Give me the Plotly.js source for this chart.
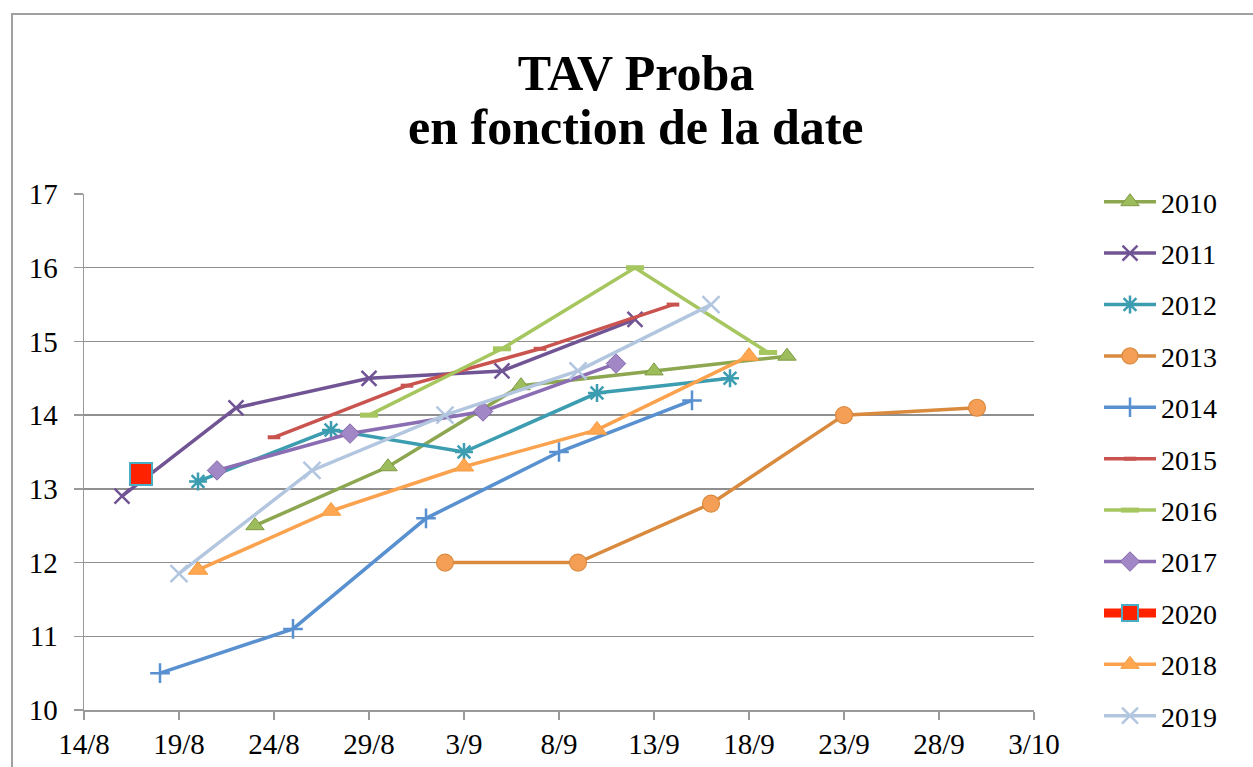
<!DOCTYPE html>
<html>
<head>
<meta charset="utf-8">
<script src="https://cdn.plot.ly/plotly-3.0.1.min.js"></script>
<style>
  html, body { margin: 0; padding: 0; background: #fff; }
  #chart { position: absolute; left: 0; top: 0; width: 1253px; height: 767px; }
  #frame { position: absolute; left: 11px; top: 13px; width: 1260px; height: 780px;
           border: 2px solid #a0a0a0; pointer-events: none; }
</style>
</head>
<body>
<div id="chart"></div>
<div id="frame"></div>
<script>
// ---- data (dates as day/month, shown on a common calendar year) ----
const seriesNames = ['2010','2011','2012','2013','2014','2015','2016','2017','2020','2018','2019'];

const dates2010 = ['2020-08-23','2020-08-30','2020-09-06','2020-09-13','2020-09-20'];
const vals2010  = [12.5, 13.3, 14.4, 14.6, 14.8];

const dates2011 = ['2020-08-16','2020-08-22','2020-08-29','2020-09-05','2020-09-12'];
const vals2011  = [12.9, 14.1, 14.5, 14.6, 15.3];

const dates2012 = ['2020-08-20','2020-08-27','2020-09-03','2020-09-10','2020-09-17'];
const vals2012  = [13.1, 13.8, 13.5, 14.3, 14.5];

const dates2013 = ['2020-09-02','2020-09-09','2020-09-16','2020-09-23','2020-09-30'];
const vals2013  = [12.0, 12.0, 12.8, 14.0, 14.1];

const dates2014 = ['2020-08-18','2020-08-25','2020-09-01','2020-09-08','2020-09-15'];
const vals2014  = [10.5, 11.1, 12.6, 13.5, 14.2];

const dates2015 = ['2020-08-24','2020-08-31','2020-09-07','2020-09-14'];
const vals2015  = [13.7, 14.4, 14.9, 15.5];

const dates2016 = ['2020-08-29','2020-09-05','2020-09-12','2020-09-19'];
const vals2016  = [14.0, 14.9, 16.0, 14.85];

const dates2017 = ['2020-08-21','2020-08-28','2020-09-04','2020-09-11'];
const vals2017  = [13.25, 13.75, 14.05, 14.7];

const dates2020 = ['2020-08-17'];
const vals2020  = [13.2];

const dates2018 = ['2020-08-20','2020-08-27','2020-09-03','2020-09-10','2020-09-18'];
const vals2018  = [11.9, 12.7, 13.3, 13.8, 14.8];

const dates2019 = ['2020-08-19','2020-08-26','2020-09-02','2020-09-09','2020-09-16'];
const vals2019  = [11.85, 13.25, 14.0, 14.6, 15.5];

const xRange = ['2020-08-14', '2020-10-03'];
const yRange = [10, 17];

const titleLine1 = 'TAV Proba';
const titleLine2 = 'en fonction de la date';

// ---- styles ----
const FONT = 'Liberation Serif, Times New Roman, serif';
function tr(name, x, y, lineColor, lineWidth, marker) {
  return {
    type: 'scatter', mode: 'lines+markers', name: name, x: x, y: y,
    legendgroup: name,
    line: { color: lineColor, width: lineWidth },
    marker: marker,
    cliponaxis: false
  };
}

const data = [
  tr(seriesNames[0], dates2010, vals2010, '#8CA750', 3.5,
     { symbol: 'triangle-up', size: 16, color: '#9DBD5C', line: { color: '#7F9A45', width: 1 } }),
  tr(seriesNames[1], dates2011, vals2011, '#705493', 3.5,
     { symbol: 'x-thin-open', size: 15, color: '#705493', line: { color: '#705493', width: 2.5 } }),
  tr(seriesNames[2], dates2012, vals2012, '#3C9DB1', 3.5,
     { symbol: 'asterisk-open', size: 15, color: '#3C9DB1', line: { color: '#3C9DB1', width: 2.5 } }),
  tr(seriesNames[3], dates2013, vals2013, '#D98A3E', 3.5,
     { symbol: 'circle', size: 17, color: '#F59E56', line: { color: '#D98A3E', width: 1.2 } }),
  tr(seriesNames[4], dates2014, vals2014, '#5890D0', 3.5,
     { symbol: 'cross-thin-open', size: 14, color: '#5890D0', line: { color: '#5890D0', width: 2.5 } }),
  tr(seriesNames[5], dates2015, vals2015, '#C9544F', 3.5,
     { symbol: 'line-ew-open', size: 9, color: '#C9544F', line: { color: '#C9544F', width: 4 } }),
  tr(seriesNames[6], dates2016, vals2016, '#A6C65F', 3.5,
     { symbol: 'line-ew-open', size: 13, color: '#A6C65F', line: { color: '#A6C65F', width: 5 } }),
  tr(seriesNames[7], dates2017, vals2017, '#8A6DB2', 3.5,
     { symbol: 'diamond', size: 15, color: '#A287C6', line: { color: '#8468A8', width: 1 } }),
  tr(seriesNames[8], dates2020, vals2020, '#FF2200', 9,
     { symbol: 'square', size: 22, color: '#FF2200', line: { color: '#4BACC6', width: 2 } }),
  tr(seriesNames[9], dates2018, vals2018, '#FBA24E', 3.5,
     { symbol: 'triangle-up', size: 17, color: '#FFA851', line: { color: '#F49A42', width: 1 } }),
  tr(seriesNames[10], dates2019, vals2019, '#B2C6E0', 3.5,
     { symbol: 'x-thin-open', size: 17, color: '#B2C6E0', line: { color: '#B2C6E0', width: 2.5 } })
];

const layout = {
  width: 1253, height: 767,
  margin: { l: 84, r: 219, t: 194, b: 57 },
  paper_bgcolor: '#ffffff', plot_bgcolor: '#ffffff',
  font: { family: FONT, size: 28, color: '#000' },
  showlegend: true,
  title: {
    text: '<b>' + titleLine1 + '</b>',
    font: { family: FONT, size: 50, color: '#000' },
    xref: 'container', x: 636 / 1253, xanchor: 'center',
    yref: 'container', y: 1 - 72 / 767, yanchor: 'middle'
  },
  annotations: [{
    text: '<b>' + titleLine2 + '</b>',
    font: { family: FONT, size: 50, color: '#000' },
    xref: 'paper', yref: 'paper',
    x: (636 - 84) / 950, xanchor: 'center',
    y: (710 - 127) / 516, yanchor: 'middle',
    showarrow: false
  }],
  xaxis: {
    type: 'date', range: xRange,
    tick0: '2020-08-14', dtick: 5 * 86400000, tickformat: '%-d/%-m',
    showgrid: false, zeroline: false,
    showline: true, linecolor: '#9a9a9a', linewidth: 1.5,
    ticks: 'outside', ticklen: 8, tickcolor: '#9a9a9a', tickwidth: 1.5,
    tickfont: { family: FONT, size: 29, color: '#000' },
    fixedrange: true
  },
  yaxis: {
    range: yRange, dtick: 1,
    showgrid: true, gridcolor: '#8f8f8f', gridwidth: 1.5,
    zeroline: false,
    showline: true, linecolor: '#9a9a9a', linewidth: 1.5,
    ticks: 'outside', ticklen: 9, tickcolor: '#9a9a9a', tickwidth: 1.5,
    ticklabelstandoff: 10,
    tickfont: { family: FONT, size: 29, color: '#000' },
    fixedrange: true
  },
  legend: {
    x: (1099 - 84) / 950, xanchor: 'left',
    y: (710 - 177) / 516, yanchor: 'top',
    font: { family: FONT, size: 28, color: '#000' },
    itemwidth: 52,
    tracegroupgap: 12,
    maxheight: 620,
    bgcolor: 'rgba(0,0,0,0)'
  }
};

Plotly.newPlot('chart', data, layout, { staticPlot: true, displayModeBar: false });
</script>
</body>
</html>
